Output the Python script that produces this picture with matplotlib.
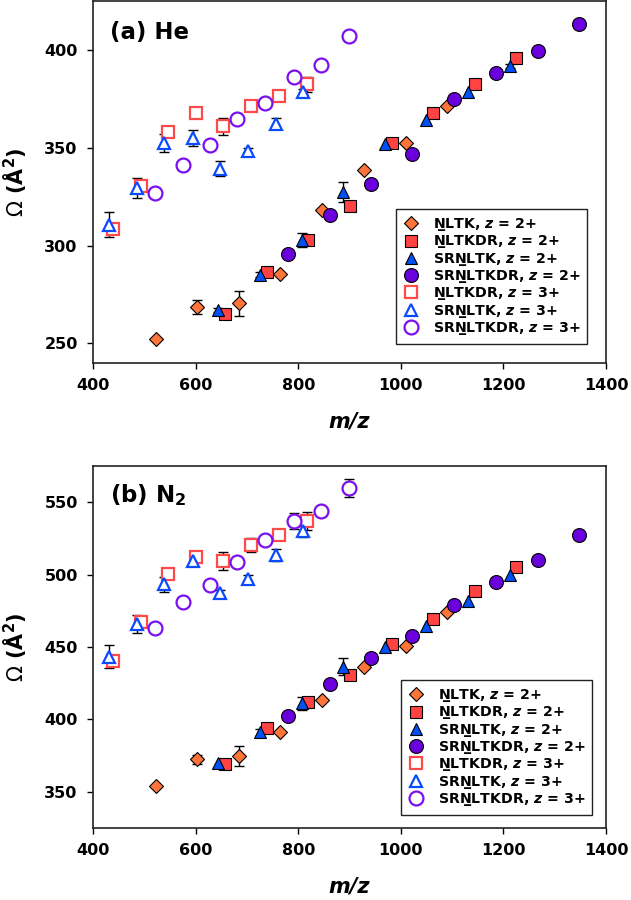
import numpy as np
import matplotlib
matplotlib.use('Agg')
import matplotlib.pyplot as plt

plt.rcParams['font.family'] = ['DejaVu Sans']
plt.rcParams['mathtext.fontset'] = 'dejavusans'

# m/z of each ion series (same ions in both panels)
nltk_2_mz = [523, 603, 685, 765, 847, 928, 1010, 1090]
nltkdr_2_mz = [658, 739, 820, 901, 983, 1063, 1144, 1225]
srnltk_2_mz = [644, 726, 807, 888, 970, 1050, 1131, 1212]
srnltkdr_2_mz = [780, 861, 942, 1022, 1104, 1186, 1267, 1347]
nltkdr_3_mz = [438, 494, 547, 601, 654, 708, 763, 818]
srnltk_3_mz = [431, 485, 539, 594, 648, 702, 756, 810]
srnltkdr_3_mz = [521, 575, 628, 681, 736, 791, 845, 899]

# CCS in He
nltk_2_he = [252.4, 268.5, 270.4, 285.7, 318.4, 338.4, 352.4, 371.1]
nltk_2_he_err = [0, 3.6, 6.3, 0, 0, 0, 0, 0]
nltkdr_2_he = [264.8, 286.4, 303.1, 320.4, 352.3, 367.7, 382.5, 396.1]
nltkdr_2_he_err = [1, 1, 1.5, 1, 0, 0, 0, 0]
srnltk_2_he = [267.3, 285.2, 303.0, 327.2, 352.0, 364.3, 378.7, 391.8]
srnltk_2_he_err = [1, 1.5, 3.5, 5.1, 0, 0, 0, 1]
srnltkdr_2_he = [295.8, 315.8, 331.5, 346.8, 375.0, 388.4, 399.6, 413.1]
srnltkdr_2_he_err = [0, 0, 0, 0, 0, 0, 0, 0]
nltkdr_3_he = [308.5, 330.3, 357.8, 368.0, 360.9, 371.4, 376.5, 382.5]
nltkdr_3_he_err = [0, 0, 0, 0, 4.2, 0, 0, 3.8]
srnltk_3_he = [310.7, 329.4, 352.4, 354.9, 339.3, 348.1, 362.2, 378.4]
srnltk_3_he_err = [6.4, 5, 4.5, 4.1, 3.9, 2, 2.8, 1.5]
srnltkdr_3_he = [327.0, 341.3, 351.2, 364.8, 373.1, 385.9, 392.3, 407.3]
srnltkdr_3_he_err = [0, 0, 0, 0, 0, 0, 0, 0]

# CCS in N2
nltk_2_n2 = [354.1, 372.5, 374.8, 391.6, 413.4, 436.0, 450.9, 474.3]
nltk_2_n2_err = [0, 3, 7, 0, 0, 0, 0, 0]
nltkdr_2_n2 = [369.3, 393.9, 411.9, 430.7, 452.1, 469.3, 488.6, 505.4]
nltkdr_2_n2_err = [1, 1.5, 1.5, 1.5, 0, 0, 0, 0]
srnltk_2_n2 = [369.8, 391.2, 411.2, 436.4, 449.8, 464.7, 481.9, 499.7]
srnltk_2_n2_err = [0, 2.5, 4.6, 6, 0, 0, 0, 0]
srnltkdr_2_n2 = [402.4, 424.5, 442.2, 457.8, 479.0, 495.0, 510.0, 527.2]
srnltkdr_2_n2_err = [0, 0, 0, 0, 0, 0, 0, 0]
nltkdr_3_n2 = [440.5, 467.4, 500.1, 512.3, 509.5, 520.3, 527.2, 536.9]
nltkdr_3_n2_err = [0, 0, 0, 0, 6.1, 5, 0, 6.3]
srnltk_3_n2 = [443.3, 465.6, 493.2, 509.5, 487.1, 496.7, 513.4, 530.2]
srnltk_3_n2_err = [8, 6.2, 5.4, 0, 2, 3, 4, 4]
srnltkdr_3_n2 = [462.9, 481.2, 492.8, 508.4, 523.8, 536.9, 544.0, 559.9]
srnltkdr_3_n2_err = [0, 0, 3, 0, 0, 5.7, 0, 6]

UN = 'N\u0332'  # underlined N
labels = [UN + r'LTK, $\mathbfit{z}$ = 2+',
          UN + r'LTKDR, $\mathbfit{z}$ = 2+',
          'SR' + UN + r'LTK, $\mathbfit{z}$ = 2+',
          'SR' + UN + r'LTKDR, $\mathbfit{z}$ = 2+',
          UN + r'LTKDR, $\mathbfit{z}$ = 3+',
          'SR' + UN + r'LTK, $\mathbfit{z}$ = 3+',
          'SR' + UN + r'LTKDR, $\mathbfit{z}$ = 3+']

# marker, size, face, edge, edge width
styles = [('D', 7.5, '#FF7438', 'black', 0.8),
          ('s', 9, '#FF4242', 'black', 0.8),
          ('^', 9, '#0050F5', 'black', 0.8),
          ('o', 10, '#6A00DC', 'black', 0.8),
          ('s', 8.6, 'white', '#FF4A4A', 1.6),
          ('^', 9, 'white', '#0A4BFF', 1.6),
          ('o', 10, 'white', '#7A10F0', 1.6)]

mz_all = [nltk_2_mz, nltkdr_2_mz, srnltk_2_mz, srnltkdr_2_mz,
          nltkdr_3_mz, srnltk_3_mz, srnltkdr_3_mz]
he_all = [(nltk_2_he, nltk_2_he_err), (nltkdr_2_he, nltkdr_2_he_err),
          (srnltk_2_he, srnltk_2_he_err), (srnltkdr_2_he, srnltkdr_2_he_err),
          (nltkdr_3_he, nltkdr_3_he_err), (srnltk_3_he, srnltk_3_he_err),
          (srnltkdr_3_he, srnltkdr_3_he_err)]
n2_all = [(nltk_2_n2, nltk_2_n2_err), (nltkdr_2_n2, nltkdr_2_n2_err),
          (srnltk_2_n2, srnltk_2_n2_err), (srnltkdr_2_n2, srnltkdr_2_n2_err),
          (nltkdr_3_n2, nltkdr_3_n2_err), (srnltk_3_n2, srnltk_3_n2_err),
          (srnltkdr_3_n2, srnltkdr_3_n2_err)]


def draw_panel(ax, data, ylim, yticks, title, title_y, leg_anchor):
    handles = []
    for i, (mz, (y, e)) in enumerate(zip(mz_all, data)):
        mz = np.array(mz)
        y = np.array(y)
        e = np.array(e)
        m = e > 0
        if m.any():
            ax.errorbar(mz[m], y[m], yerr=e[m], fmt='none', ecolor='black',
                        elinewidth=1, capsize=3.5, capthick=1, zorder=2)
        mk, ms, fc, ec, mew = styles[i]
        h, = ax.plot(mz, y, linestyle='none', marker=mk, markersize=ms,
                     markerfacecolor=fc, markeredgecolor=ec,
                     markeredgewidth=mew, zorder=3 + i * 0.1, label=labels[i])
        handles.append(h)

    ax.set_xlim(400, 1400)
    ax.set_ylim(*ylim)
    ax.set_xticks([400, 600, 800, 1000, 1200, 1400])
    ax.set_yticks(yticks)
    ax.tick_params(direction='out', length=4, width=1, labelsize=11.5,
                   pad=7, top=False, right=False)
    for lab in ax.get_xticklabels() + ax.get_yticklabels():
        lab.set_fontweight('bold')
    for sp in ax.spines.values():
        sp.set_linewidth(1.2)
        sp.set_color('#222222')

    ax.set_xlabel('m/z', fontsize=15, fontweight='bold', fontstyle='italic',
                  labelpad=13)
    ax.set_ylabel(r'$\Omega$ (Å$^{\mathbf{2}}$)', fontsize=15,
                  fontweight='bold')
    ax.yaxis.set_label_coords(-0.125, 0.5)
    ax.text(0.033, title_y, title, transform=ax.transAxes, fontsize=16.5,
            fontweight='bold', va='center', ha='left')

    leg = ax.legend(handles=handles, loc='lower right',
                    bbox_to_anchor=leg_anchor, borderaxespad=0,
                    frameon=True, fancybox=False,
                    edgecolor='#222222', framealpha=1,
                    prop={'weight': 'bold', 'size': 10.2},
                    handlelength=1.2, handletextpad=0.9, labelspacing=0.02,
                    borderpad=0.5, numpoints=1)
    leg.get_frame().set_linewidth(1.0)


fig = plt.figure(figsize=(6.31, 9.0), dpi=100)
ax1 = fig.add_axes([0.1474, 0.5967, 0.813, 0.4022])
ax2 = fig.add_axes([0.1474, 0.0800, 0.813, 0.4022])

draw_panel(ax1, he_all, (240, 425), [250, 300, 350, 400], '(a) He', 0.912,
           (0.963, 0.0525))
draw_panel(ax2, n2_all, (325, 575), [350, 400, 450, 500, 550],
           r'(b) N$_{\mathbf{2}}$', 0.92, (0.973, 0.036))

fig.savefig('out.png', dpi=100)
